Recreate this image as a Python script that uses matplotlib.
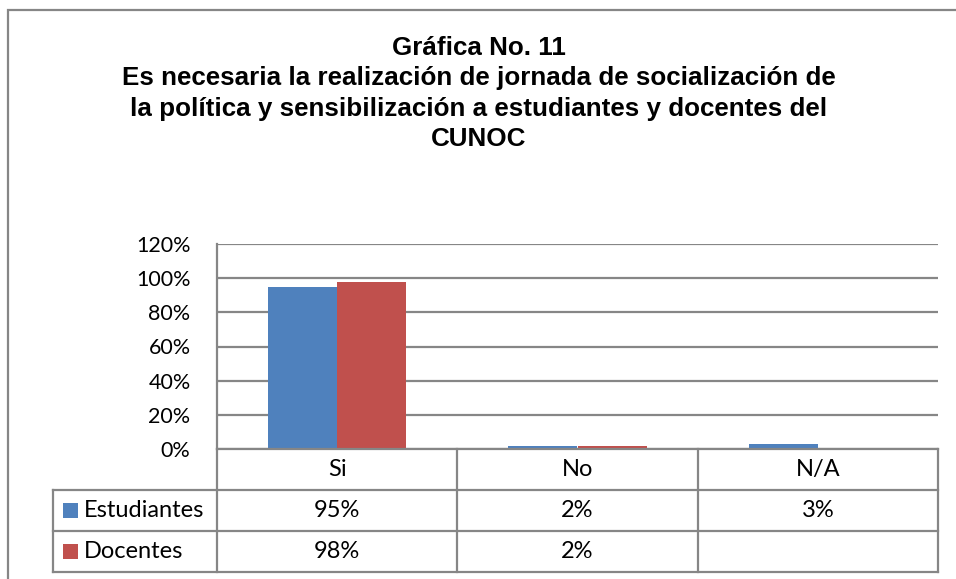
import matplotlib.pyplot as plt
from matplotlib.patches import Rectangle
from matplotlib.transforms import blended_transform_factory

# datos
categorias = ["Si", "No", "N/A"]
series = ["Estudiantes", "Docentes"]
estudiantes = [0.95, 0.02, 0.03]
docentes = [0.98, 0.02, None]
etiquetas_est = ["95%", "2%", "3%"]
etiquetas_doc = ["98%", "2%", ""]
colores = ["#4F81BD", "#C0504D"]
ticks_y = [0, 0.2, 0.4, 0.6, 0.8, 1.0, 1.2]

titulo = ["Gráfica No. 11",
          "Es necesaria la realización de jornada de socialización de",
          "la política y sensibilización a estudiantes y docentes del",
          "CUNOC"]

W, H = 956, 579
gris = "#868686"
fuente = "Lato"
tam = 17

fig = plt.figure(figsize=(W / 100, H / 100), dpi=100)
fig.patch.set_facecolor("white")

# marco exterior
fig.add_artist(Rectangle((8 / W, -0.1), 1.2, 1 - 10 / H + 0.1, transform=fig.transFigure,
                         fill=False, edgecolor=gris, linewidth=1.6))

# titulo
for k, linea in enumerate(titulo):
    fig.text(479 / W, 1 - (55 + 30.5 * k) / H, linea, ha="center", va="baseline",
             fontsize=18.7, fontweight="bold", family="Liberation Sans")

# area de grafico
x0, x1, ytop, ybot = 217, 938, 244, 449
ax = fig.add_axes([x0 / W, 1 - ybot / H, (x1 - x0) / W, (ybot - ytop) / H])
ax.set_xlim(-0.5, len(categorias) - 0.5)
ax.set_ylim(0, 1.2)

ancho = 0.2875
for i in range(len(categorias)):
    if estudiantes[i] is not None:
        ax.bar(i - ancho / 2, estudiantes[i], width=ancho, color=colores[0], zorder=3)
    if docentes[i] is not None:
        ax.bar(i + ancho / 2, docentes[i], width=ancho, color=colores[1], zorder=3)

ax.set_yticks(ticks_y)
ax.set_yticklabels([f"{int(round(t * 100))}%" for t in ticks_y], fontsize=15.5, family=fuente)
ax.tick_params(axis="y", length=0, pad=19)
ax.set_xticks([])
ax.grid(axis="y", color=gris, linewidth=1.6, zorder=0)
for s in ["top", "right", "bottom"]:
    ax.spines[s].set_visible(False)
ax.spines["left"].set_color(gris)
ax.spines["left"].set_linewidth(1.6)
ax.spines["left"].set_zorder(4)

# tabla de datos
tr = blended_transform_factory(ax.transData, ax.transAxes)
alto = 41 / (ybot - ytop)
px_cat = (x1 - x0) / len(categorias)
x_izq = -0.5 - (x0 - 53) / px_cat
x_der = len(categorias) - 0.5
lw = dict(color=gris, linewidth=1.6, transform=tr, clip_on=False)

ax.plot([-0.5, x_der], [0, 0], **lw, zorder=5)
for r in range(1, 4):
    ax.plot([x_izq, x_der], [-r * alto, -r * alto], **lw)
for c in range(len(categorias) + 1):
    ax.plot([c - 0.5, c - 0.5], [0, -3 * alto], **lw)
ax.plot([x_izq, x_izq], [-alto, -3 * alto], **lw)

txt = dict(ha="center", va="center", fontsize=tam, family=fuente, transform=tr, clip_on=False)
for i, cat in enumerate(categorias):
    ax.text(i, -0.5 * alto, cat, **txt)
    ax.text(i, -1.5 * alto, etiquetas_est[i], **txt)
    ax.text(i, -2.5 * alto, etiquetas_doc[i], **txt)

cuad = 15 / px_cat
for r, (nombre, col) in enumerate(zip(series, colores)):
    yc = -(1.5 + r) * alto
    ax.add_patch(Rectangle((x_izq + 10 / px_cat, yc - 7.5 / (ybot - ytop)), cuad, 15 / (ybot - ytop),
                           facecolor=col, edgecolor="none", transform=tr, clip_on=False))
    ax.text(x_izq + 31 / px_cat, yc, nombre, ha="left", va="center", fontsize=tam,
            family=fuente, transform=tr, clip_on=False)

fig.savefig("out.png", dpi=100, facecolor="white")
